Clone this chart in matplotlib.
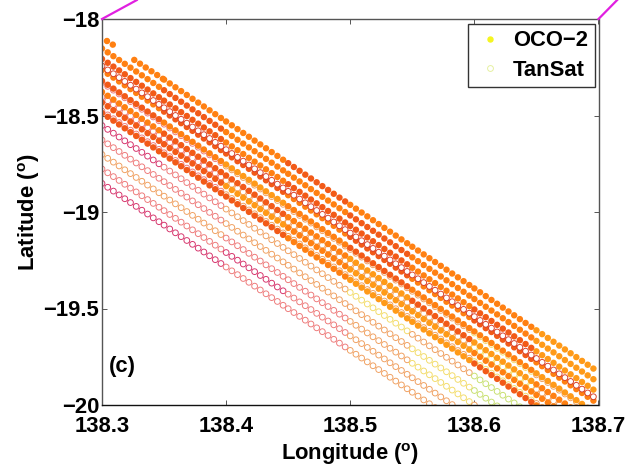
import matplotlib
matplotlib.use("Agg")
import matplotlib.pyplot as plt
from matplotlib.lines import Line2D

# NOTE: footprints are rendered as round-dot dash patterns along each satellite
# track. The data below are track positions and colour runs,
# not individually measured footprint coordinates.

plt.rcParams['font.family'] = ['Liberation Sans', 'DejaVu Sans']
plt.rcParams['font.weight'] = 'bold'
plt.rcParams['lines.scale_dashes'] = False
plt.rcParams['mathtext.fontset'] = 'custom'
plt.rcParams['mathtext.rm'] = 'Liberation Sans:bold'

x_ticks = [138.3, 138.4, 138.5, 138.6, 138.7]
x_tick_labels = ['138.3', '138.4', '138.5', '138.6', '138.7']
y_ticks = [-20, -19.5, -19, -18.5, -18]
y_tick_labels = ['\u221220', '\u221219.5', '\u221219', '\u221218.5', '\u221218']

track_lons = [138.30, 138.35, 138.40, 138.45, 138.50, 138.55, 138.60, 138.65, 138.70]
oco_first_lons = [138.326, 138.35, 138.40, 138.45, 138.50, 138.55, 138.60, 138.65, 138.70]
oco_stub_lon = [138.304, 138.313]
oco_stub_lat = [-18.114, -18.150]

oco_lats = [
    [-18.212, -18.314, -18.531, -18.747, -18.963, -19.180, -19.396, -19.613, -19.829],
    [-18.153, -18.369, -18.586, -18.802, -19.018, -19.235, -19.451, -19.668, -19.884],
    [-18.207, -18.423, -18.640, -18.856, -19.072, -19.289, -19.505, -19.722, -19.938],
    [-18.264, -18.480, -18.697, -18.913, -19.129, -19.346, -19.562, -19.779, -19.995],
    [-18.321, -18.537, -18.754, -18.970, -19.186, -19.403, -19.619, -19.836, -20.052],
    [-18.378, -18.594, -18.811, -19.027, -19.243, -19.460, -19.676, -19.893, -20.109],
    [-18.433, -18.649, -18.866, -19.082, -19.298, -19.515, -19.731, -19.948, -20.164],
    [-18.487, -18.703, -18.920, -19.136, -19.352, -19.569, -19.785, -20.002, -20.218],
]
oco_runs = ['oooroool', 'oroorool', 'rrorrorl', 'orrororo',
            'rolorool', 'orrolrlo', 'rrlolloo', 'rrrollro']

tansat_lats = [
    [-18.244, -18.460, -18.677, -18.893, -19.109, -19.326, -19.542, -19.759, -19.975],
    [-18.329, -18.545, -18.762, -18.978, -19.194, -19.411, -19.627, -19.844, -20.060],
    [-18.404, -18.620, -18.837, -19.053, -19.269, -19.486, -19.702, -19.919, -20.135],
    [-18.477, -18.693, -18.910, -19.126, -19.342, -19.559, -19.775, -19.992, -20.208],
    [-18.552, -18.768, -18.985, -19.201, -19.417, -19.634, -19.850, -20.067, -20.283],
    [-18.627, -18.843, -19.060, -19.276, -19.492, -19.709, -19.925, -20.142, -20.358],
    [-18.702, -18.918, -19.135, -19.351, -19.567, -19.784, -20.000, -20.217, -20.433],
    [-18.777, -18.993, -19.210, -19.426, -19.642, -19.859, -20.075, -20.292, -20.508],
    [-18.852, -19.068, -19.285, -19.501, -19.717, -19.934, -20.150, -20.367, -20.583],
]
tansat_runs = ['dddddddd', 'ppttttyt', 'ppttttyt', 'ppttttyt',
               'cpttytgt', 'pptttygt', 'ttpptyty', 'ppcptttt', 'ccpptttt']

colors = {'o': '#FF8012', 'r': '#F25A18', 'l': '#FF9A18', 'y': '#F3DC6A',
          'd': '#D8402A', 'c': '#D6336B', 'p': '#EE7A7A', 't': '#F0A060', 'g': '#C8E070'}

connector_left_lon = [138.30, 138.328]
connector_right_lon = [138.70, 138.715]
connector_lat = [-18.0, -17.902]

fig = plt.figure(figsize=(6.32, 4.68), dpi=100)
ax = fig.add_axes([102/632, 1-405/468, 496.5/632, 386/468])
ax.set_xlim(138.3, 138.7)
ax.set_ylim(-20, -18)

OCO_STYLE = dict(lw=4.7, dash_capstyle='round', linestyle=(0, (0.01, 4.93)))


def ring_track(lons, lats, runs, z):
    for i, code in enumerate(runs):
        for col, w, zz in ((colors[code], 4.9, z), ('white', 3.5, z + 0.01)):
            ax.plot(lons[i:i+2], lats[i:i+2], color=col, lw=w, zorder=zz,
                    dash_capstyle='round', linestyle=(0, (0.01, 4.93)))


for k, (lats, runs) in enumerate(zip(tansat_lats, tansat_runs)):
    ring_track(track_lons, lats, runs, 4 if k == 0 else 2)

for k, (lats, runs) in enumerate(zip(oco_lats, oco_runs)):
    lons = oco_first_lons if k == 0 else track_lons
    for i, code in enumerate(runs):
        ax.plot(lons[i:i+2], lats[i:i+2], color=colors[code], zorder=3, **OCO_STYLE)
ax.plot(oco_stub_lon, oco_stub_lat, color=colors['o'], zorder=3, **OCO_STYLE)

for lon in (connector_left_lon, connector_right_lon):
    ax.plot(lon, connector_lat, color='#E020E0', lw=1.6, clip_on=False, zorder=6)

ax.set_xticks(x_ticks, x_tick_labels)
ax.set_yticks(y_ticks, y_tick_labels)
ax.tick_params(axis='both', direction='in', length=3.5, width=0.7, color='#555555',
               labelsize=15.8, top=True, right=True)
ax.tick_params(axis='x', pad=8)
ax.tick_params(axis='y', pad=2)
for name, spine in ax.spines.items():
    spine.set_linewidth(1.0)
    spine.set_color('#111111' if name == 'bottom' else '#555555')
    spine.set_zorder(5)

ax.set_xlabel('Longitude ($^{\\mathrm{o}}$)', fontsize=15.8, fontweight='bold', labelpad=3)
ax.set_ylabel('Latitude ($^{\\mathrm{o}}$)', fontsize=15.8, fontweight='bold', labelpad=1)
ax.text(138.3055, -19.80, '(c)', fontsize=15.8, fontweight='bold', va='center', ha='left')

handles = [
    Line2D([], [], linestyle='none', marker='o', ms=3.6, mfc='#F5F520', mec='#F5F520'),
    Line2D([], [], linestyle='none', marker='o', ms=4.2, mfc='white', mec='#E6F0A0', mew=0.7),
]
leg = ax.legend(handles, ['OCO\u22122', 'TanSat'], loc='upper right',
                bbox_to_anchor=(0.9925, 0.9875), borderaxespad=0, fontsize=15.8,
                fancybox=False, framealpha=1, edgecolor='#333333',
                handlelength=1.4, handletextpad=0.35, labelspacing=0.38,
                borderpad=0.3)
leg.get_frame().set_linewidth(1.0)
leg.set_zorder(7)

fig.savefig('out.png', dpi=100)
